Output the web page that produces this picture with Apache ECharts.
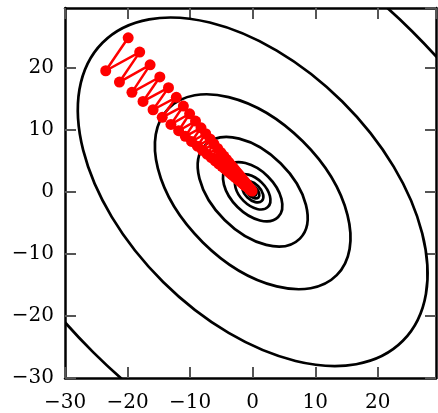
<!DOCTYPE html>
<html>
<head>
<meta charset="utf-8">
<script src="https://cdn.jsdelivr.net/npm/echarts@6/dist/echarts.min.js"></script>
<style>
html,body{margin:0;padding:0;background:#fff;}
#chart{width:438px;height:413px;}
</style>
</head>
<body>
<div id="chart"></div>
<script>
// Axis tick labels
var xTicks = [-30, -20, -10, 0, 10, 20];
var yTicks = [-30, -20, -10, 0, 10, 20];

// Contour ellipses (centred at origin): semi-major, semi-minor axis, major-axis angle (deg)
var contourMajor = [0.75, 1.30, 2.08, 3.45, 5.76, 10.67, 19.0, 33.95, 60.5];
var contourMinor = [0.45, 0.78, 1.25, 2.07, 3.46, 6.40, 11.4, 20.4, 36.3];
var contourAngle = [-45, -45, -45, -45, -45, -45, -45, -45, -45];

// Gradient descent path (red)
var pathX = [-19.9, -23.49, -18.06, -21.3, -16.4, -19.3, -14.84, -17.53, -13.46, -15.92,
  -12.21, -14.46, -11.08, -13.07, -10.08, -11.84, -9.14, -10.77, -8.26, -9.77,
  -7.51, -8.84, -6.82, -8.04, -6.2, -7.31, -5.6, -6.61, -5.07, -6.0,
  -4.61, -5.44, -4.18, -4.93, -3.79, -4.48, -3.44, -4.06, -3.12, -3.68,
  -2.83, -3.34, -2.57, -3.03, -2.33, -2.75, -2.12, -2.49, -1.92, -2.26,
  -1.74, -2.05, -1.58, -1.86, -1.43, -1.68, -1.3, -1.53, -1.18, -1.38,
  -1.07, -1.26, -0.97, -0.92, -0.75, -0.69, -0.56, -0.46, -0.38, -0.27, -0.25, -0.1];
var pathY = [24.8, 19.49, 22.5, 17.67, 20.44, 16.01, 18.49, 14.55, 16.77, 13.21,
  15.21, 11.99, 13.81, 10.85, 12.56, 9.83, 11.39, 8.93, 10.3, 8.1,
  9.36, 7.34, 8.5, 6.67, 7.72, 6.06, 6.98, 5.49, 6.32, 4.98,
  5.75, 4.51, 5.21, 4.09, 4.73, 3.71, 4.29, 3.37, 3.89, 3.06,
  3.53, 2.77, 3.2, 2.51, 2.9, 2.28, 2.64, 2.07, 2.39, 1.88,
  2.17, 1.7, 1.97, 1.54, 1.79, 1.4, 1.61, 1.27, 1.47, 1.15,
  1.33, 1.05, 1.21, 0.77, 0.94, 0.57, 0.70, 0.38, 0.47, 0.22, 0.31, 0.12];

var contourData = contourMajor.map(function (a, i) { return [a, contourMinor[i], contourAngle[i]]; });
var pathData = pathX.map(function (x, i) { return [x, pathY[i]]; });

var X_MIN = -30, X_MAX = 29.3, Y_MIN = -30, Y_MAX = 29.6;
var FONT = 'DejaVu Serif';
function fmt(v) {
  if (xTicks.indexOf(v) < 0 && yTicks.indexOf(v) < 0) return '';
  return v < 0 ? '\u2212' + Math.abs(v) : String(v);
}
var tickStyle = { show: true, inside: true, length: 11, lineStyle: { color: '#555', width: 2 } };
var axisLine = { show: true, onZero: false, lineStyle: { color: '#000', width: 2.5 } };

var chart = echarts.init(document.getElementById('chart'), null, { renderer: 'canvas' });
chart.setOption({
  animation: false,
  backgroundColor: '#fff',
  grid: { left: 65, top: 8, width: 371, height: 372, containLabel: false },
  xAxis: [
    { type: 'value', min: X_MIN, max: X_MAX, interval: 10, position: 'bottom',
      axisLine: axisLine, axisTick: tickStyle, splitLine: { show: false },
      axisLabel: { show: true, showMaxLabel: false, margin: 15, color: '#000', fontFamily: FONT, fontSize: 20, formatter: fmt } },
    { type: 'value', min: X_MIN, max: X_MAX, interval: 10, position: 'top',
      axisLine: axisLine, axisTick: tickStyle, splitLine: { show: false }, axisLabel: { show: false } }
  ],
  yAxis: [
    { type: 'value', min: Y_MIN, max: Y_MAX, interval: 10, position: 'left',
      axisLine: axisLine, axisTick: tickStyle, splitLine: { show: false },
      axisLabel: { show: true, showMaxLabel: false, margin: 11, color: '#000', fontFamily: FONT, fontSize: 20, formatter: fmt } },
    { type: 'value', min: Y_MIN, max: Y_MAX, interval: 10, position: 'right',
      axisLine: axisLine, axisTick: tickStyle, splitLine: { show: false }, axisLabel: { show: false } }
  ],
  series: [
    {
      type: 'custom',
      xAxisIndex: 0, yAxisIndex: 0,
      clip: true,
      z: 1,
      data: contourData,
      renderItem: function (params, api) {
        var A = api.value(0), B = api.value(1), th = api.value(2) * Math.PI / 180;
        var c = api.coord([0, 0]);
        var pMaj = api.coord([A * Math.cos(th), A * Math.sin(th)]);
        var pMin = api.coord([-B * Math.sin(th), B * Math.cos(th)]);
        var rx = Math.hypot(pMaj[0] - c[0], pMaj[1] - c[1]);
        var ry = Math.hypot(pMin[0] - c[0], pMin[1] - c[1]);
        var rot = -Math.atan2(pMaj[1] - c[1], pMaj[0] - c[0]);
        return {
          type: 'ellipse', x: c[0], y: c[1], rotation: rot,
          shape: { cx: 0, cy: 0, rx: rx, ry: ry },
          style: { fill: 'none', stroke: '#000', lineWidth: 2.7 }
        };
      }
    },
    {
      type: 'line',
      xAxisIndex: 0, yAxisIndex: 0,
      z: 5,
      data: pathData,
      symbol: 'circle',
      symbolSize: 11,
      showAllSymbol: true,
      lineStyle: { color: '#ff0000', width: 2.5 },
      itemStyle: { color: '#ff0000' }
    }
  ]
});
</script>
</body>
</html>
